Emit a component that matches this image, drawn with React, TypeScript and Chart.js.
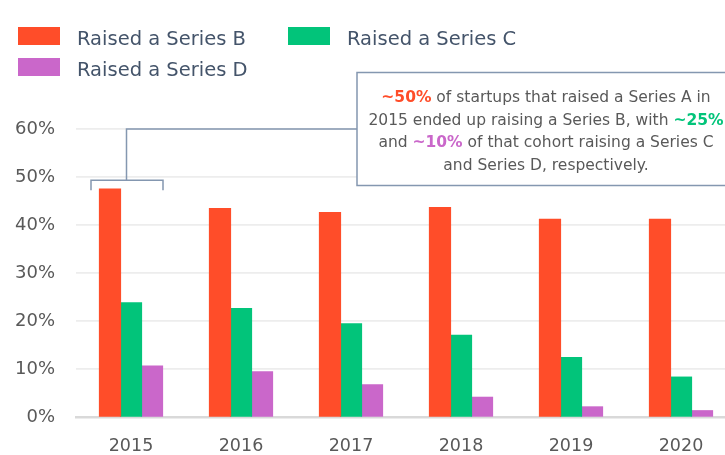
import React, { useEffect, useRef } from "react";
import { Chart, registerables } from "chart.js";

Chart.register(...registerables);

const YEARS = ["2015", "2016", "2017", "2018", "2019", "2020"];
const SERIES_B = [47.5, 43.4, 42.6, 43.6, 41.2, 41.2];
const SERIES_C = [23.8, 22.6, 19.4, 17.0, 12.4, 8.3];
const SERIES_D = [10.6, 9.4, 6.7, 4.1, 2.1, 1.3];
const SERIES_NAMES = ["Raised a Series B", "Raised a Series C", "Raised a Series D"];
const COLORS = ["#FF4D29", "#02C47A", "#CA67CA"];
const Y_TICKS_MAX = 60;
const Y_STEP = 10;

const FONT = "'DejaVu Sans', sans-serif";
const TEXT_GRAY = "#595959";
const LEGEND_TEXT = "#44546A";
const CALLOUT_BLUE = "#8497B0";

type Seg = { t: string; c?: string; b?: boolean };
const CALLOUT_LINES: Seg[][] = [
  [{ t: "~50%", c: COLORS[0], b: true }, { t: " of startups that raised a Series A in" }],
  [{ t: "2015 ended up raising a Series B, with " }, { t: "~25%", c: COLORS[1], b: true }],
  [{ t: "and " }, { t: "~10%", c: COLORS[2], b: true }, { t: " of that cohort raising a Series C" }],
  [{ t: "and Series D, respectively." }],
];

const legendPlugin = {
  id: "customLegend",
  afterDraw(chart: any) {
    const ctx = chart.ctx;
    const items = [
      { x: 18, base: 45 },
      { x: 288, base: 45 },
      { x: 18, base: 76 },
    ];
    ctx.save();
    chart.data.datasets.forEach((ds: any, i: number) => {
      const p = items[i];
      ctx.fillStyle = ds.backgroundColor;
      ctx.fillRect(p.x, p.base - 18, 42, 18);
      ctx.fillStyle = LEGEND_TEXT;
      ctx.font = `19.5px ${FONT}`;
      ctx.textBaseline = "alphabetic";
      ctx.textAlign = "left";
      ctx.fillText(ds.label, p.x + 59, p.base);
    });
    ctx.restore();
  },
};

const calloutPlugin = {
  id: "callout",
  afterDraw(chart: any) {
    const ctx = chart.ctx;
    const xs = chart.scales.x;
    const ys = chart.scales.y;
    const c = xs.getPixelForValue(0);
    const topY = ys.getPixelForValue(Y_TICKS_MAX);
    const brY = ys.getPixelForValue(49.3);
    const brEnd = brY + 10;
    const boxL = 357;
    const boxT = 72.5;
    const boxB = 185.5;
    const boxR = 740;
    ctx.save();
    ctx.strokeStyle = CALLOUT_BLUE;
    ctx.lineWidth = 1.5;
    ctx.beginPath();
    ctx.moveTo(c - 40, brEnd);
    ctx.lineTo(c - 40, brY);
    ctx.lineTo(c + 32, brY);
    ctx.lineTo(c + 32, brEnd);
    ctx.moveTo(c - 4.5, brY);
    ctx.lineTo(c - 4.5, topY);
    ctx.lineTo(boxL, topY);
    ctx.stroke();
    ctx.fillStyle = "#FFFFFF";
    ctx.fillRect(boxL, boxT, boxR - boxL, boxB - boxT);
    ctx.strokeRect(boxL, boxT, boxR - boxL, boxB - boxT);

    const cx = 546;
    const baselines = [102, 124.5, 147, 169.5];
    const size = 15.5;
    ctx.textBaseline = "alphabetic";
    ctx.textAlign = "left";
    CALLOUT_LINES.forEach((line, li) => {
      let total = 0;
      const widths = line.map((s) => {
        ctx.font = `${s.b ? "bold " : ""}${size}px ${FONT}`;
        const w = ctx.measureText(s.t).width;
        total += w;
        return w;
      });
      let x = cx - total / 2;
      line.forEach((s, si) => {
        ctx.font = `${s.b ? "bold " : ""}${size}px ${FONT}`;
        ctx.fillStyle = s.c || TEXT_GRAY;
        ctx.fillText(s.t, x, baselines[li]);
        x += widths[si];
      });
    });
    ctx.restore();
  },
};

export default function App() {
  const ref = useRef<HTMLCanvasElement | null>(null);
  useEffect(() => {
    if (!ref.current) return;
    const seriesData = [SERIES_B, SERIES_C, SERIES_D];
    const chart = new Chart(ref.current, {
      type: "bar",
      data: {
        labels: YEARS,
        datasets: seriesData.map((d, i) => ({
          label: SERIES_NAMES[i],
          data: d,
          backgroundColor: COLORS[i],
          borderWidth: 0,
          inflateAmount: 0.6,
          categoryPercentage: 0.573,
          barPercentage: 1,
        })),
      },
      options: {
        responsive: false,
        animation: false,
        devicePixelRatio: 1,
        layout: { padding: { top: 129, right: 10, left: 0, bottom: 0 } },
        plugins: {
          legend: { display: false },
          tooltip: { enabled: false },
        },
        scales: {
          x: {
            grid: { display: false },
            border: { display: true, color: "#D9D9D9", width: 2.5 },
            ticks: {
              color: TEXT_GRAY,
              font: { family: FONT, size: 17.5 },
              padding: 11,
            },
            afterFit: (s: any) => {
              s.height = 38;
            },
          },
          y: {
            min: 0,
            max: Y_TICKS_MAX,
            ticks: {
              stepSize: Y_STEP,
              color: TEXT_GRAY,
              font: { family: FONT, size: 18 },
              padding: 21,
              callback: (v: any) => `${v}%`,
            },
            grid: { color: "#EDEDED", lineWidth: 1.8, drawTicks: false },
            border: { display: false },
            afterFit: (s: any) => {
              s.width = 76;
            },
          },
        },
      },
      plugins: [legendPlugin, calloutPlugin],
    });
    return () => chart.destroy();
  }, []);
  return (
    <div
      style={{
        position: "fixed",
        left: 0,
        top: 0,
        width: 725,
        height: 455,
        overflow: "hidden",
        background: "#FFFFFF",
      }}
    >
      <canvas ref={ref} width={746} height={455} style={{ display: "block" }} />
    </div>
  );
}
